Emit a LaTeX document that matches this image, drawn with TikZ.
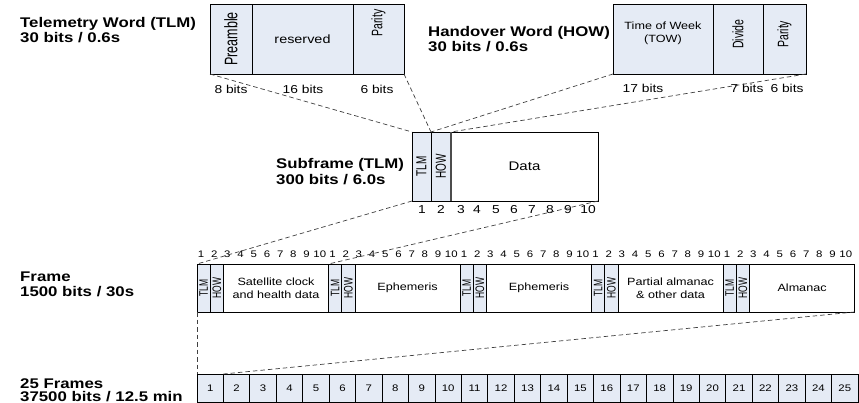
\documentclass[tikz,border=0pt]{standalone}
\usepackage{fontspec}
\usepackage{graphicx}
\setmainfont{Liberation Sans}[FakeStretch=1.2]
\newfontfamily\rotfont{Liberation Sans}
\definecolor{cellblue}{HTML}{E5EBF5}
\newcommand\rtx[1]{\scalebox{1}[1.45]{#1}}
\begin{document}
\begin{tikzpicture}[x=1pt,y=-1pt,
  box/.style={draw=black, line width=0.8pt, inner sep=0pt, outer sep=0pt, anchor=north west, fill=cellblue},
  wbox/.style={box, fill=white},
  rot/.style={rotate=90, font=\rotfont\fontsize{#1}{#1}\selectfont, inner sep=0pt},
  lbl/.style={font=\bfseries\fontsize{14}{16}\selectfont, anchor=base west, inner sep=0pt},
  bits/.style={font=\fontsize{11.5}{13}\selectfont, inner sep=0pt, anchor=base},
  num/.style={font=\fontsize{#1}{#1}\selectfont, inner sep=0pt, anchor=base},
  conn/.style={dash pattern=on 4.5pt off 3pt, line width=0.7pt, black!75}
]
\useasboundingbox (0,0) rectangle (859,403);

% ---------- Telemetry word ----------
\node[box, minimum width=42pt, minimum height=70pt] (pre) at (210,4) {};
\node[rot=12.5] (preT) at (pre.center) {\rtx{Preamble}};
\node[box, minimum width=101pt, minimum height=70pt, font=\fontsize{12}{14}\selectfont] (res) at (252,4) {reserved};
\node[box, minimum width=51pt, minimum height=70pt] (tpar) at (353,4) {};
\node[rot=10.5] (tparT) at ([yshift=16pt]tpar.center) {\rtx{Parity}};
\node[bits] (b8) at (231,94) {8 bits};
\node[bits] (b16) at (303,94) {16 bits};
\node[bits] (b6a) at (377,94) {6 bits};
\node[lbl] (tlmA) at (20,28) {Telemetry Word (TLM)};
\node[lbl] (tlmB) at (20,43) {30 bits / 0.6s};

% ---------- Handover word ----------
\node[box, minimum width=100pt, minimum height=69.5pt] (tow) at (613,4.5) {};
\node[align=center, font=\fontsize{10.5}{13}\selectfont, inner sep=0pt] (towT) at ([yshift=6pt]tow.center) {Time of Week\\(TOW)};
\node[box, minimum width=50pt, minimum height=69.5pt] (div) at (713,4.5) {};
\node[rot=10.5] (divT) at ([yshift=5pt]div.center) {\rtx{Divide}};
\node[box, minimum width=43pt, minimum height=69.5pt] (hpar) at (763,4.5) {};
\node[rot=10.5] (hparT) at ([yshift=5pt]hpar.center) {\rtx{Parity}};
\node[bits] (b17) at (643,93) {17 bits};
\node[bits] (b7) at (747,93) {7 bits};
\node[bits] (b6b) at (787,93) {6 bits};
\node[lbl] (howA) at (428,37) {Handover Word (HOW)};
\node[lbl] (howB) at (428,52) {30 bits / 0.6s};

% ---------- Subframe ----------
\node[box, minimum width=19pt, minimum height=69pt] (sftlm) at (412,132) {};
\node[rot=10] (sftlmT) at (sftlm.center) {\rtx{TLM}};
\node[box, minimum width=20pt, minimum height=69pt] (sfhow) at (431,132) {};
\node[rot=10] (sfhowT) at (sfhow.center) {\rtx{HOW}};
\node[wbox, minimum width=147pt, minimum height=69pt, font=\fontsize{12.5}{14}\selectfont] (sfdat) at (451,132) {Data};
\draw[line width=1.1pt, black!70] (sfdat.north west) -- (sfdat.south west);
\foreach \k/\xx in {1/422,2/441,3/461,4/477,5/496,6/514,7/532,8/550,9/568,10/588}
  \node[num=11.5] (sn\k) at (\xx,213.5) {\k};
\node[lbl] (sfA) at (276,169) {Subframe (TLM)};
\node[lbl] (sfB) at (276,185) {300 bits / 6.0s};

% ---------- Frame ----------
\foreach \i/\txt in {0/{Satellite clock\\and health data},1/{Ephemeris},2/{Ephemeris},3/{Partial almanac\\\& other data},4/{Almanac}} {
  \pgfmathsetmacro\sx{197+\i*131.5}
  \node[box, minimum width=13.3pt, minimum height=48pt] (ftlm\i) at (\sx,264) {};
  \node[rot=8.5] (ftlmT\i) at (ftlm\i.center) {\rtx{TLM}};
  \node[box, minimum width=13.3pt, minimum height=48pt] (fhow\i) at (\sx+13.3,264) {};
  \node[rot=8.5] (fhowT\i) at (fhow\i.center) {\rtx{HOW}};
  \node[wbox, minimum width=104.9pt, minimum height=48pt, align=center, font=\fontsize{10.5}{12.5}\selectfont] (fdat\i) at (\sx+26.6,264) {\txt};
  \foreach \k in {1,...,10}
    \node[num=9.5] (fn\i x\k) at ({\sx+4+13.2*(\k-1)},257.5) {\k};
}
\node[lbl] (frA) at (20,282) {Frame};
\node[lbl] (frB) at (20,297) {1500 bits / 30s};

% ---------- 25 frames ----------
\foreach \k in {1,...,25}
  \node[box, minimum width=26.44pt, minimum height=28pt, font=\fontsize{9.5}{10}\selectfont] (c\k) at ({197+(\k-1)*26.44},374) {\k};
\node[lbl] (allA) at (20,388) {25 Frames};
\node[lbl] (allB) at (20,401) {37500 bits / 12.5 min};

% ---------- connectors ----------
\draw[conn] (pre.south west) -- (sftlm.north west);
\draw[conn] (tpar.south east) -- (sfhow.north west);
\draw[conn] (tow.south west) -- (sfhow.north west);
\draw[conn] (hpar.south east) -- (sfdat.north west);
\draw[conn] (sftlm.south west) -- (ftlm0.north west);
\draw[conn] (sfdat.south east) -- (ftlm1.north west);
\draw[conn] (ftlm0.south west) -- (c1.north west);
\draw[conn] (fdat4.south east) -- (c2.north west);
\end{tikzpicture}
\end{document}
